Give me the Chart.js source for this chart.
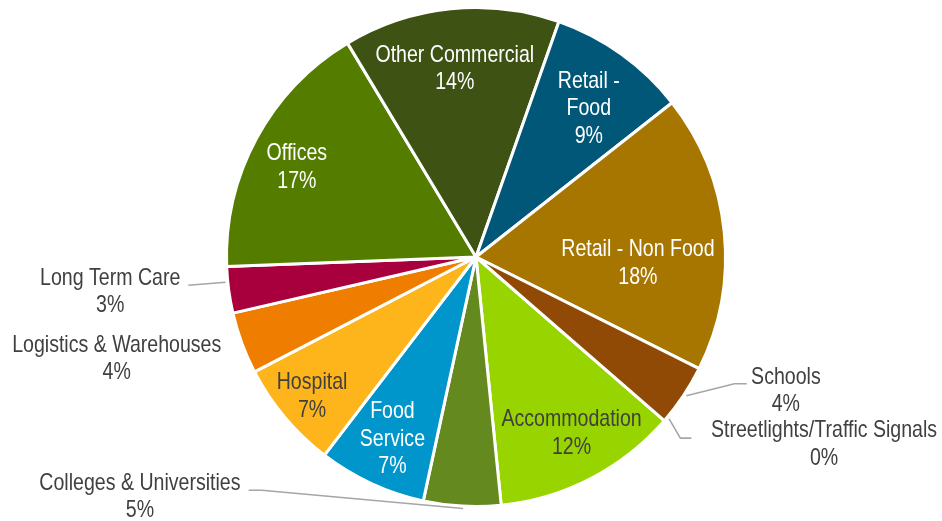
<!DOCTYPE html>
<html>
<head>
<meta charset="utf-8">
<title>Energy use by building type</title>
<script src="https://cdn.jsdelivr.net/npm/chart.js@4.4.1/dist/chart.umd.min.js"></script>
<style>
  html, body { margin: 0; padding: 0; background: #ffffff; }
  #wrap { width: 942px; height: 521px; }
</style>
</head>
<body>
<div id="wrap"><canvas id="pie" width="942" height="521"></canvas></div>
<script>
// Building categories, in the order the slices run clockwise
const categories = [
  'Accommodation',
  'Colleges & Universities',
  'Food Service',
  'Hospital',
  'Logistics & Warehouses',
  'Long Term Care',
  'Offices',
  'Other Commercial',
  'Retail - Food',
  'Retail - Non Food',
  'Schools',
  'Streetlights/Traffic Signals'
];

// Share of the total, percent
const shares = [12, 5, 7, 7, 4, 3, 17, 14, 9, 18, 4, 0];

// How each category name is broken over lines in its label
const labelNames = [
  ['Accommodation'],
  ['Colleges & Universities'],
  ['Food', 'Service'],
  ['Hospital'],
  ['Logistics & Warehouses'],
  ['Long Term Care'],
  ['Offices'],
  ['Other Commercial'],
  ['Retail -', 'Food'],
  ['Retail - Non Food'],
  ['Schools'],
  ['Streetlights/Traffic Signals']
];

const sliceColors = [
  '#97d400', '#64891f', '#0095cb', '#fdb51b', '#ef7d00', '#a8003c',
  '#547d00', '#3d5213', '#005777', '#a67600', '#904a05', '#7f7f7f'
];

const DARK = '#404040';
const WHITE = '#ffffff';

// Label placement in units of the pie radius, measured from the pie centre;
// 'leader' holds the connector polyline for labels set outside the pie.
const labelLayout = [
  { x: 0.383, y: 0.700, color: DARK },
  { x: -1.347, y: 0.956, color: DARK, leader: [[-0.911, 0.935], [-0.859, 0.935], [-0.052, 1.008]] },
  { x: -0.335, y: 0.724, color: WHITE },
  { x: -0.657, y: 0.552, color: DARK },
  { x: -1.440, y: 0.403, color: DARK },
  { x: -1.466, y: 0.133, color: DARK, leader: [[-1.153, 0.113], [-1.004, 0.101]] },
  { x: -0.718, y: -0.365, color: WHITE },
  { x: -0.085, y: -0.760, color: WHITE },
  { x: 0.452, y: -0.601, color: WHITE },
  { x: 0.649, y: 0.020, color: WHITE },
  { x: 1.242, y: 0.530, color: DARK, leader: [[0.843, 0.556], [1.036, 0.508], [1.085, 0.508]] },
  { x: 1.395, y: 0.744, color: DARK, leader: [[0.774, 0.649], [0.819, 0.726], [0.863, 0.726]] }
];

// Narrow sans: regular face squeezed horizontally
const LABEL_FONT = '24px "Liberation Sans", Arial, sans-serif';
const NARROW = 0.815;
const LINE_HEIGHT = 27.5;
const TEXT_DROP = 1.5; // 'middle' baseline sits a touch above the cap centre

const sliceLabels = {
  id: 'sliceLabels',
  afterDatasetsDraw(chart) {
    const meta = chart.getDatasetMeta(0);
    const first = meta.data[0];
    if (!first) return;
    const cx = first.x, cy = first.y, R = first.outerRadius;
    const ctx = chart.ctx;
    ctx.save();

    // connector lines
    ctx.strokeStyle = '#a6a6a6';
    ctx.lineWidth = 1.6;
    ctx.lineJoin = 'round';
    labelLayout.forEach(l => {
      if (!l.leader) return;
      ctx.beginPath();
      l.leader.forEach((p, i) => {
        const px = cx + p[0] * R, py = cy + p[1] * R;
        if (i === 0) ctx.moveTo(px, py); else ctx.lineTo(px, py);
      });
      ctx.stroke();
    });

    // label text: category name then percentage
    ctx.font = LABEL_FONT;
    ctx.textAlign = 'center';
    ctx.textBaseline = 'middle';
    categories.forEach((c, i) => {
      const l = labelLayout[i];
      const lines = labelNames[i].concat([shares[i] + '%']);
      const x = cx + l.x * R;
      const yMid = cy + l.y * R + TEXT_DROP;
      const top = yMid - (lines.length - 1) * LINE_HEIGHT / 2;
      ctx.fillStyle = l.color;
      lines.forEach((t, k) => {
        ctx.save();
        ctx.translate(x, top + k * LINE_HEIGHT);
        ctx.scale(NARROW, 1);
        ctx.fillText(t, 0, 0);
        ctx.restore();
      });
    });
    ctx.restore();
  }
};

new Chart(document.getElementById('pie'), {
  type: 'pie',
  data: {
    labels: categories,
    datasets: [{
      data: shares,
      backgroundColor: sliceColors,
      borderColor: '#ffffff',
      borderWidth: 3,
      hoverOffset: 0,
      offset: 0
    }]
  },
  options: {
    responsive: false,
    animation: false,
    rotation: 131,
    layout: { padding: { left: 10, right: 0, top: 6, bottom: 13 } },
    plugins: {
      legend: { display: false },
      tooltip: { enabled: false }
    },
    events: []
  },
  plugins: [sliceLabels]
});
</script>
</body>
</html>
